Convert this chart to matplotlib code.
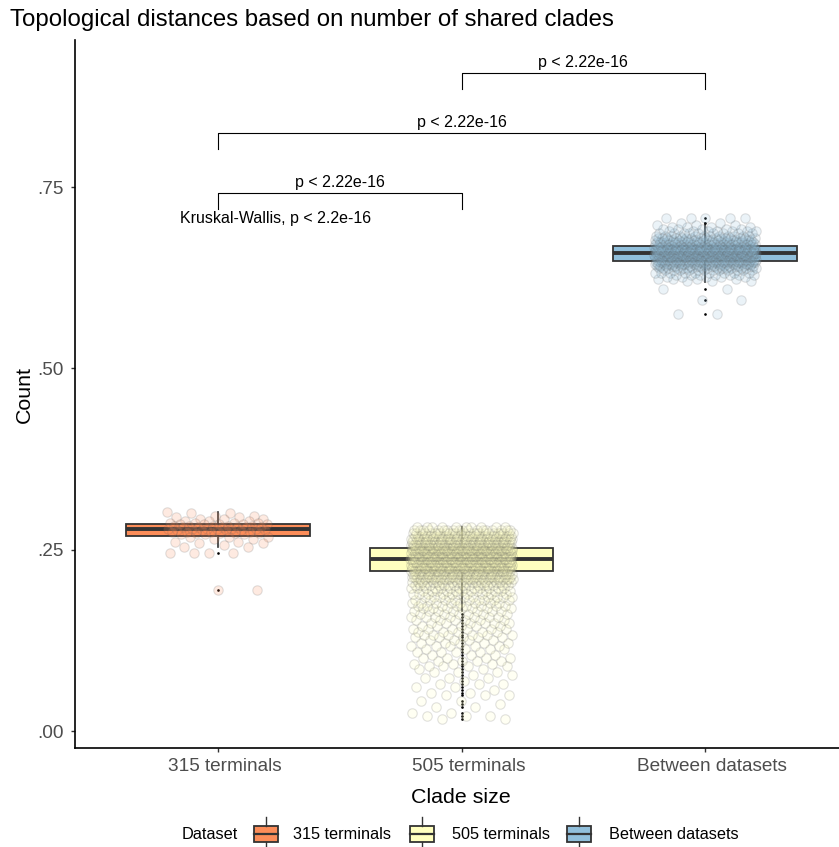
import numpy as np
import matplotlib.pyplot as plt
import matplotlib.transforms as mtransforms
from matplotlib.patches import Rectangle
from matplotlib.lines import Line2D

plt.rcParams['font.family'] = ['Liberation Sans', 'DejaVu Sans']

groups = ["315 terminals", "505 terminals", "Between datasets"]
colors = ["#FC8D59", "#FFFFBF", "#91BFDB"]

# distance levels (x1000) and number of tree pairs at each level
levels_315 = [302, 300, 297, 295, 292, 290, 287, 285, 283, 281, 279, 277, 275,
              273, 271, 268, 265, 261, 259, 256, 254, 246, 194]
counts_315 = [1, 2, 2, 2, 3, 3, 4, 5, 5, 6, 6, 5, 4,
              4, 3, 3, 2, 2, 2, 1, 2, 4, 2]

levels_505 = [17, 21, 25, 29, 33, 37, 41, 45, 49, 53, 57, 61, 65, 69, 73, 77,
              81, 85, 89, 93, 97, 101, 105, 109, 113, 117, 121, 125, 129, 133,
              137, 141, 145, 149, 153, 157, 161, 165, 169, 173, 177, 181, 185,
              189, 193, 197, 201, 205, 209, 213, 217, 221, 225, 229, 233, 237,
              241, 245, 249, 253, 257, 261, 265, 269, 273, 277, 281]
counts_505 = [2, 3, 2, 0, 2, 1, 2, 0, 3, 2, 1, 2, 3, 1, 3, 2,
              3, 2, 4, 3, 4, 4, 3, 4, 4, 5, 5, 4, 5, 6,
              5, 6, 5, 6, 6, 7, 6, 7, 7, 8, 8, 9, 10,
              10, 12, 13, 16, 20, 24, 28, 32, 36, 38, 40, 42, 42,
              44, 44, 44, 42, 40, 38, 36, 32, 26, 18, 10]

levels_btw = [575, 594, 609, 620, 623, 626, 629, 632, 635, 638, 641, 644, 647,
              650, 653, 656, 659, 662, 665, 668, 671, 674, 677, 680, 683, 686,
              689, 692, 695, 698, 701, 707]
counts_btw = [2, 2, 2, 3, 4, 5, 7, 9, 12, 16, 20, 25, 30,
              34, 38, 40, 42, 40, 38, 34, 30, 25, 20, 16, 12, 9,
              7, 5, 4, 3, 2, 5]

# box summaries: lower whisker, Q1, median, Q3, upper whisker
box_315 = [0.254, 0.269, 0.279, 0.2855, 0.302]
box_505 = [0.165, 0.221, 0.2367, 0.252, 0.281]
box_btw = [0.6195, 0.648, 0.6595, 0.669, 0.700]

levels = [levels_315, levels_505, levels_btw]
counts = [counts_315, counts_505, counts_btw]
boxes = [box_315, box_505, box_btw]

W, H = 839, 847
fig = plt.figure(figsize=(W / 100, H / 100), dpi=100)
ax = fig.add_axes([75 / W, 1 - 748 / H, (W - 75) / W, (748 - 40) / H])


def fx(px):
    return px / W


def fy(py):
    return 1 - py / H


stats = []
values = []
for name, lv, ct, b in zip(groups, levels, counts, boxes):
    y = np.repeat(np.array(lv) / 1000, ct)
    values.append(y)
    uniq = np.unique(y)
    fl = uniq[(uniq < b[0]) | (uniq > b[4])]
    stats.append(dict(label=name, whislo=b[0], q1=b[1], med=b[2], q3=b[3],
                      whishi=b[4], fliers=fl))

bp = ax.bxp(stats, positions=[1, 2, 3], widths=0.755, patch_artist=True,
            showcaps=False,
            boxprops=dict(edgecolor="#333333", linewidth=1.3),
            medianprops=dict(color="#333333", linewidth=2.8),
            whiskerprops=dict(color="#333333", linewidth=1.2),
            flierprops=dict(marker="o", markersize=1.9, markerfacecolor="black",
                            markeredgecolor="none"))
for patch, c in zip(bp["boxes"], colors):
    patch.set_facecolor(c)
    patch.set_zorder(2)

# deterministic horizontal spread of points (golden-ratio sequence)
phi = (np.sqrt(5) - 1) / 2
for i, y in enumerate(values):
    frac = (np.arange(len(y)) * phi + 0.31 * i) % 1
    x = i + 1 + (frac - 0.5) * 0.42
    ax.scatter(x, y, s=46, facecolor=colors[i], edgecolor="#5a5a5a",
               linewidths=0.8, alpha=0.18, zorder=3)

# pairwise comparison brackets
brackets = [(1, 2, 0.7418, 0.7197), (1, 3, 0.8245, 0.8024), (2, 3, 0.9072, 0.8851)]
for a, b, top, leg in brackets:
    ax.plot([a, a, b, b], [leg, top, top, leg], color="black", lw=0.8, zorder=4)
    ax.text((a + b) / 2, top + 0.0045, "p < 2.22e-16", ha="center", va="bottom",
            fontsize=11.5, color="black")
ax.text(0.844, 0.707, "Kruskal-Wallis, p < 2.2e-16", ha="left", va="center",
        fontsize=11.5, color="black")

ax.set_xlim(0.4127, 3.55)
ax.set_ylim(-0.0234, 0.9527)
ax.set_xticks([1, 2, 3])
ax.set_xticklabels(groups)
ax.set_yticks([0, 0.25, 0.5, 0.75])
ax.set_yticklabels([".00", ".25", ".50", ".75"])
ax.tick_params(axis="both", length=3, width=1, color="#333333",
               labelcolor="#4D4D4D", labelsize=13.7)
ax.tick_params(axis="y", pad=5)
ax.tick_params(axis="x", pad=4)
shift = mtransforms.ScaledTranslation(0.07, 0, fig.dpi_scale_trans)
for lab in ax.get_xticklabels():
    lab.set_transform(lab.get_transform() + shift)
for side in ["top", "right"]:
    ax.spines[side].set_visible(False)
for side in ["left", "bottom"]:
    ax.spines[side].set_linewidth(1.2)
    ax.spines[side].set_color("black")

fig.text(fx(10), fy(20), "Topological distances based on number of shared clades",
         ha="left", va="center", fontsize=17.3)
fig.text(fx(461), fy(797), "Clade size", ha="center", va="center", fontsize=15.4)
fig.text(fx(24), fy(394), "Count", ha="center", va="center", fontsize=15.4,
         rotation=90)

# legend along the bottom
ly = 834
fig.text(fx(182), fy(ly), "Dataset", ha="left", va="center", fontsize=11.7)
key_x = [254, 410, 567]
label_x = [293, 452, 609]
for kx, tx, c, name in zip(key_x, label_x, colors, groups):
    fig.add_artist(Line2D([fx(kx + 12)] * 2, [fy(817), fy(826)],
                          color="#333333", lw=1.0, transform=fig.transFigure))
    fig.add_artist(Line2D([fx(kx + 12)] * 2, [fy(842), fy(850)],
                          color="#333333", lw=1.0, transform=fig.transFigure))
    fig.add_artist(Rectangle((fx(kx), fy(842)), fx(24), 16 / H, facecolor=c,
                             edgecolor="#333333", lw=1.3,
                             transform=fig.transFigure))
    fig.add_artist(Line2D([fx(kx), fx(kx + 24)], [fy(ly)] * 2,
                          color="#333333", lw=1.6, transform=fig.transFigure))
    fig.text(fx(tx), fy(ly), name, ha="left", va="center", fontsize=11.7)

fig.savefig("out.png", dpi=100)
